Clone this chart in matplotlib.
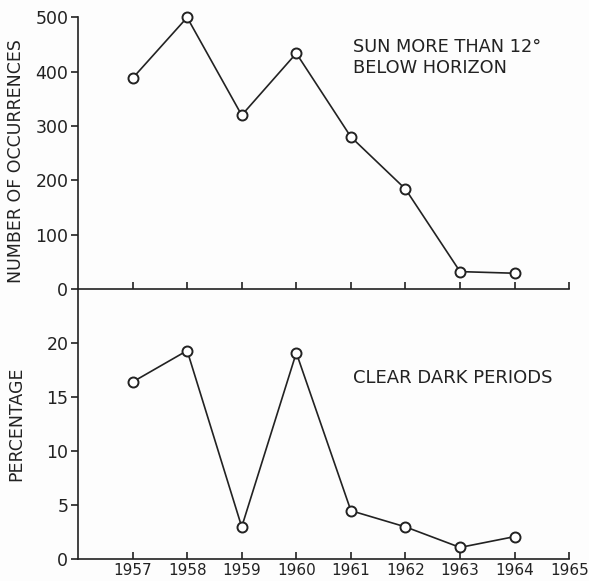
import matplotlib
matplotlib.use("Agg")
import matplotlib.pyplot as plt

# Yearly values
years = [1957, 1958, 1959, 1960, 1961, 1962, 1963, 1964]
occurrences = [388, 500, 320, 434, 280, 184, 32, 29]
clear_pct = [16.4, 19.3, 3.0, 19.1, 4.5, 3.0, 1.1, 2.1]

year_ticks = [1957, 1958, 1959, 1960, 1961, 1962, 1963, 1964, 1965]
year_labels = ["1957", "1958", "1959", "1960", "1961", "1962", "1963", "1964", "1965"]
occ_ticks = [0, 100, 200, 300, 400, 500]
pct_ticks = [0, 5, 10, 15, 20]

ink = "#222222"
plt.rcParams["font.family"] = ["DejaVu Sans"]

fig = plt.figure(figsize=(5.89, 5.81), dpi=100, facecolor="#fdfdfd")
left, width = 0.1324, 0.834
ax1 = fig.add_axes([left, 0.5026, width, 0.4674])
ax2 = fig.add_axes([left, 0.0373, width, 0.4653])

line_kw = dict(color=ink, lw=1.2, marker="o", markersize=7.2,
               markerfacecolor="white", markeredgecolor=ink, markeredgewidth=1.4,
               clip_on=False, zorder=3)

ax1.plot(years, occurrences, **line_kw)
ax2.plot(years, clear_pct, **line_kw)

for ax in (ax1, ax2):
    ax.set_facecolor("none")
    ax.set_xlim(1956, 1965)
    ax.spines["top"].set_visible(False)
    ax.spines["right"].set_visible(False)
    for s in ("left", "bottom"):
        ax.spines[s].set_color(ink)
        ax.spines[s].set_linewidth(1.2)
    ax.set_xticks(year_ticks)
    ax.tick_params(axis="x", direction="in", length=5, width=1.2, color=ink,
                   labelsize=11, labelcolor=ink, pad=3)
    ax.tick_params(axis="y", direction="out", length=5, width=1.2, color=ink,
                   labelsize=12.5, labelcolor=ink, pad=2)

ax1.set_ylim(0, 500)
ax1.set_yticks(occ_ticks)
ax1.set_xticklabels([])
ax1.set_ylabel("NUMBER OF OCCURRENCES", fontsize=12.5, color=ink)
ax1.yaxis.set_label_coords(-0.107, 0.47)
ax1.text(1961.04, 426, "SUN MORE THAN 12°\nBELOW HORIZON", fontsize=12.8,
         color=ink, ha="left", va="center", linespacing=1.25)

ax2.set_ylim(0, 25)
ax2.set_yticks(pct_ticks)
ax2.set_xticklabels(year_labels)
ax2.set_ylabel("PERCENTAGE", fontsize=12.5, color=ink)
ax2.yaxis.set_label_coords(-0.107, 0.5)
ax2.text(1961.04, 16.8, "CLEAR DARK PERIODS", fontsize=13, color=ink,
         ha="left", va="center")

fig.savefig("out.png", dpi=100, facecolor=fig.get_facecolor())
